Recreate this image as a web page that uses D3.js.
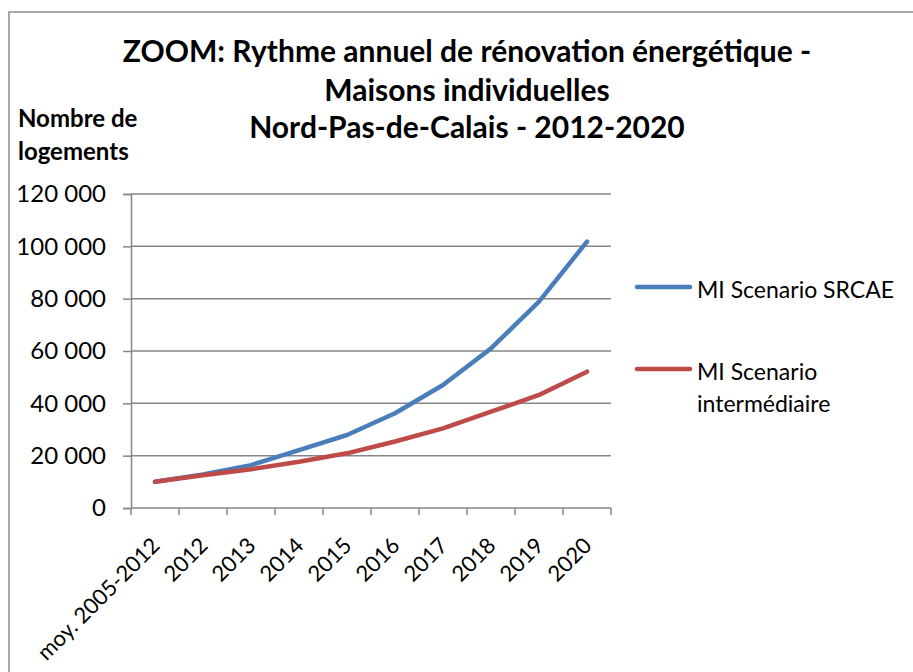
<!DOCTYPE html>
<html>
<head>
<meta charset="utf-8">
<script src="https://cdn.jsdelivr.net/npm/d3@7"></script>
<style>
  html, body { margin: 0; padding: 0; background: #fff; }
  svg { display: block; }
  text { font-family: Lato, "Open Sans", sans-serif; fill: #000; }
</style>
</head>
<body>
<svg id="chart" width="913" height="672"></svg>
<script>
const categories = ["moy. 2005-2012", "2012", "2013", "2014", "2015", "2016", "2017", "2018", "2019", "2020"];
const srcae = [10000, 12800, 16400, 22100, 27900, 36200, 47000, 61000, 78900, 101800];
const intermediaire = [10000, 12500, 14800, 17700, 20900, 25400, 30400, 36800, 43200, 52100];
const yTicks = [0, 20000, 40000, 60000, 80000, 100000, 120000];
const seriesNames = ["MI Scenario SRCAE", "MI Scenario intermédiaire"];
const titleLines = ["ZOOM: Rythme annuel de rénovation énergétique -", "Maisons individuelles", "Nord-Pas-de-Calais - 2012-2020"];
const yTitleLines = ["Nombre de", "logements"];

const svg = d3.select("#chart");
const colors = ["#4a7ebb", "#be4b48"];
const gridColor = "#868686";

// frame
svg.append("rect").attr("x", 9).attr("y", 12).attr("width", 920).attr("height", 680)
  .attr("fill", "none").attr("stroke", "#8c8c8c").attr("stroke-width", 1.5);

const x = d3.scaleBand().domain(categories).range([131, 611]).padding(0);
const y = d3.scaleLinear().domain([0, 120000]).range([508, 194]);
const cx = d => x(d) + x.bandwidth() / 2;

const fmt = v => d3.format(",")(v).replace(/,/g, "\u00a0");

// gridlines
svg.append("g").selectAll("line").data(yTicks.filter(d => d > 0)).join("line")
  .attr("x1", 131).attr("x2", 611).attr("y1", d => y(d)).attr("y2", d => y(d))
  .attr("stroke", gridColor).attr("stroke-width", 1.5);

// y axis
const yAxis = svg.append("g").attr("transform", "translate(131,0)")
  .call(d3.axisLeft(y).tickValues(yTicks).tickFormat(fmt).tickSize(8).tickPadding(17));
yAxis.select(".domain").attr("stroke", gridColor).attr("stroke-width", 1.5);
yAxis.selectAll(".tick line").attr("stroke", gridColor).attr("stroke-width", 1.5);
yAxis.selectAll(".tick text").attr("font-size", 24).attr("font-family", "Lato").attr("fill", "#000");

// x axis
const xAxis = svg.append("g").attr("transform", "translate(0,508)");
xAxis.append("line").attr("x1", 131).attr("x2", 611).attr("y1", 0).attr("y2", 0)
  .attr("stroke", gridColor).attr("stroke-width", 1.5);
const boundaries = categories.map(c => x(c)).concat([x(categories[categories.length - 1]) + x.bandwidth()]);
xAxis.selectAll("line.tk").data(boundaries).join("line").attr("class", "tk")
  .attr("x1", d => d).attr("x2", d => d).attr("y1", 0).attr("y2", 7)
  .attr("stroke", gridColor).attr("stroke-width", 1.5);
xAxis.selectAll("text").data(categories).join("text")
  .attr("transform", d => `translate(${cx(d) + 6},39) rotate(-45)`)
  .attr("text-anchor", "end").attr("font-size", 22).text(d => d);

// lines
const line = d3.line().x((d, i) => cx(categories[i])).y(d => y(d));
[srcae, intermediaire].forEach((s, i) => {
  svg.append("path").datum(s).attr("d", line).attr("fill", "none")
    .attr("stroke", colors[i]).attr("stroke-width", 4.5)
    .attr("stroke-linejoin", "round").attr("stroke-linecap", "round");
});

// title
const title = svg.append("g");
[62, 101, 138].forEach((by, i) => {
  title.append("text").attr("x", 467).attr("y", by).attr("text-anchor", "middle")
    .attr("font-size", 30).attr("font-weight", "bold").text(titleLines[i]);
});

// y title
[127, 160].forEach((by, i) => {
  svg.append("text").attr("x", 18).attr("y", by).attr("font-size", 24)
    .attr("font-weight", "bold").text(yTitleLines[i]);
});

// legend
const legend = svg.append("g");
const legRows = [{ y: 287, lines: [seriesNames[0]] }, { y: 369, lines: ["MI Scenario", "intermédiaire"] }];
legRows.forEach((r, i) => {
  legend.append("line").attr("x1", 637).attr("x2", 690).attr("y1", r.y).attr("y2", r.y)
    .attr("stroke", colors[i]).attr("stroke-width", 4.5).attr("stroke-linecap", "round");
  r.lines.forEach((t, j) => {
    legend.append("text").attr("x", 697).attr("y", r.y + 11 + j * 32)
      .attr("font-size", 23).text(t);
  });
});
</script>
</body>
</html>
